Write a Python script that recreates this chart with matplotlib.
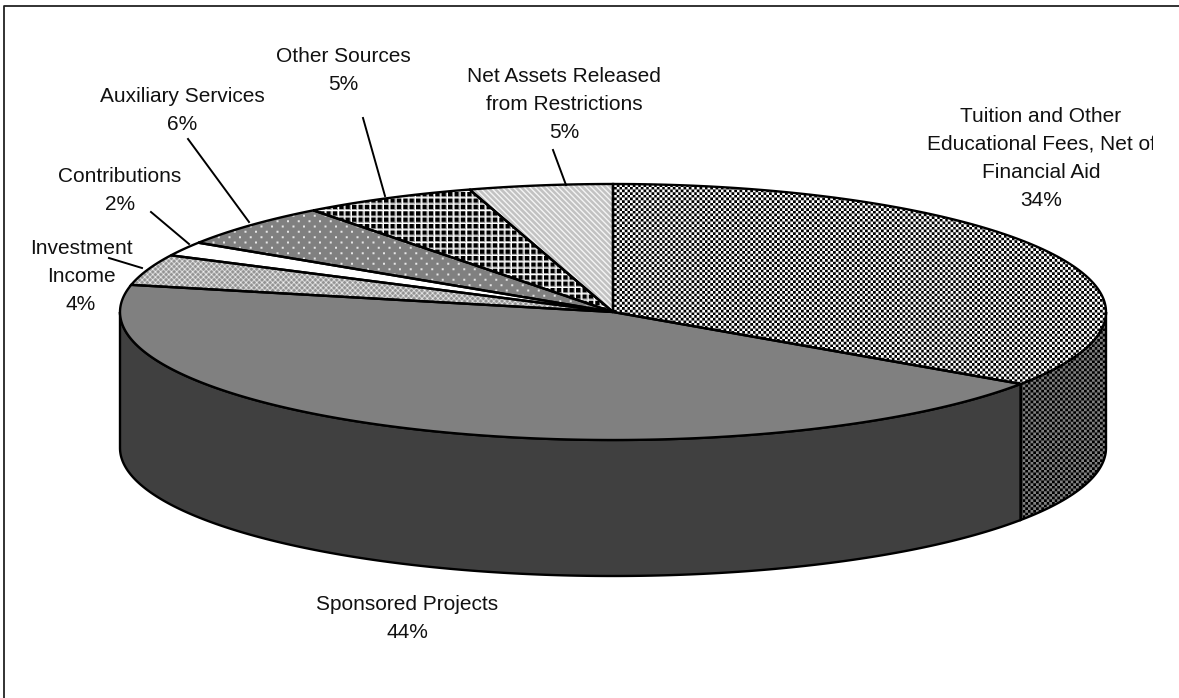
import numpy as np
import matplotlib
matplotlib.use('Agg')
import matplotlib.pyplot as plt
from matplotlib.patches import Polygon, Rectangle

plt.rcParams['font.family'] = ['Liberation Sans', 'DejaVu Sans']

# revenue slices, clockwise from 12 o'clock
categories = ['Tuition and Other\nEducational Fees, Net of\nFinancial Aid', 'Sponsored Projects',
              'Investment\nIncome', 'Contributions', 'Auxiliary Services', 'Other Sources',
              'Net Assets Released\nfrom Restrictions']
percent_labels = [34, 44, 4, 2, 6, 5, 5]
# slice sizes as drawn
shares = [34.5, 43.9, 3.9, 1.8, 5.5, 5.7, 4.7]

W, H = 1179, 698
# pie ellipse in pixels
CX, CY, RX, RY = 613, 312, 493, 128
DEPTH = 136


def checker(x, y, cell=2.67, dark=0.0, light=1.0):
    return np.where((np.floor(x / cell) + np.floor(y / cell)) % 2 == 0, dark, light)


def grid(x, y):
    img = np.where((x % 6.4 < 4.2) & (y % 6.4 < 4.2), 0.0, 0.65)
    lines = ((x + 1.1) % 6.4 < 1.1) | ((y + 1.1) % 6.4 < 1.1)
    return np.where(lines, 1.0, img)


def stripes(x, y):
    return np.where((x - y) % 5.6 < 2.0, 0.95, 0.76)


def dots(x, y):
    row = np.floor(y / 5.33)
    xx = (x + 5.33 * (row % 2)) % 10.67
    yy = y % 5.33
    return np.where((np.abs(xx - 5.33) < 1.0) & (np.abs(yy - 2.67) < 1.0), 0.9, 0.5)


def lattice(x, y):
    a = (x + y) % 5.33 < 1.8
    b = (x - y) % 5.33 < 1.8
    return np.where(a & b, 0.95, np.where(a | b, 0.78, 0.58))


def solid(level):
    return lambda x, y: np.full_like(x, level, dtype=float)


top_fills = [checker, solid(0.5), lattice, solid(1.0), dots, grid, stripes]
side_fills = [lambda x, y: checker(x, y, dark=0.0, light=0.5), solid(0.25)]


def texture(func):
    # 4x supersampled so the pattern comes out soft like the scanned original
    s = 4
    ys, xs = np.mgrid[0:H * s, 0:W * s]
    img = func((xs + 0.5) / s, (ys + 0.5) / s)
    return img.reshape(H, s, W, s).mean(axis=(1, 3))


def rim(t):
    # t is clockwise from top, in radians
    return CX + RX * np.sin(t), CY - RY * np.cos(t)


fig = plt.figure(figsize=(W / 100, H / 100), dpi=100)
ax = fig.add_axes([0, 0, 1, 1])
ax.set_xlim(0, W)
ax.set_ylim(H, 0)
ax.axis('off')

# chart frame only shows on the left and top
ax.plot([4, 4, W], [H, 5.5, 5.5], color='#222222', lw=1.3, zorder=1)

edges = np.radians(np.cumsum([0] + shares) / sum(shares) * 360)

# side wall first, only the front half of the rim shows
side_parts = [(np.pi / 2, edges[1], side_fills[0]), (edges[1], 3 * np.pi / 2, side_fills[1])]
for start, end, func in side_parts:
    t = np.linspace(start, end, 200)
    x, y = rim(t)
    pts = np.r_[np.c_[x, y], np.c_[x, y + DEPTH][::-1]]
    poly = Polygon(pts, closed=True, fc='none', ec='black', lw=1.7, zorder=3)
    ax.add_patch(poly)
    im = ax.imshow(texture(func), cmap='gray', vmin=0, vmax=1, extent=(0, W, H, 0),
                   interpolation='nearest', aspect='auto', zorder=2)
    im.set_clip_path(poly)

# top face
for i, func in enumerate(top_fills):
    t = np.linspace(edges[i], edges[i + 1], 200)
    x, y = rim(t)
    pts = np.r_[[[CX, CY]], np.c_[x, y]]
    poly = Polygon(pts, closed=True, fc='none', ec='black', lw=1.7, zorder=5)
    ax.add_patch(poly)
    im = ax.imshow(texture(func), cmap='gray', vmin=0, vmax=1, extent=(0, W, H, 0),
                   interpolation='nearest', aspect='auto', zorder=4)
    im.set_clip_path(poly)

ax.set_xlim(0, W)
ax.set_ylim(H, 0)

# label centres in pixels, leaders as (label end, pie end)
label_pos = [(1041, 158), (407, 618), (81, 276), (120, 190), (182, 111), (343, 70), (564, 105)]
leaders = [None, None, ((109, 258), (142, 268)), ((151, 212), (189, 244)),
           ((188, 139), (249, 222)), ((363, 118), (385, 196)), ((553, 150), (566, 185))]

for name, pct, pos, lead in zip(categories, percent_labels, label_pos, leaders):
    txt = ax.text(pos[0], pos[1], f'{name}\n{pct}%', ha='center', va='center', fontsize=15,
                  linespacing=1.6, color='#111111', zorder=6, clip_on=True)
    # the tuition label runs past the chart area on the right
    txt.set_clip_path(Rectangle((0, 0), 1153, H, transform=ax.transData))
    if lead:
        ax.plot([lead[0][0], lead[1][0]], [lead[0][1], lead[1][1]], color='black', lw=1.4, zorder=6)

fig.savefig('out.png', dpi=100)
